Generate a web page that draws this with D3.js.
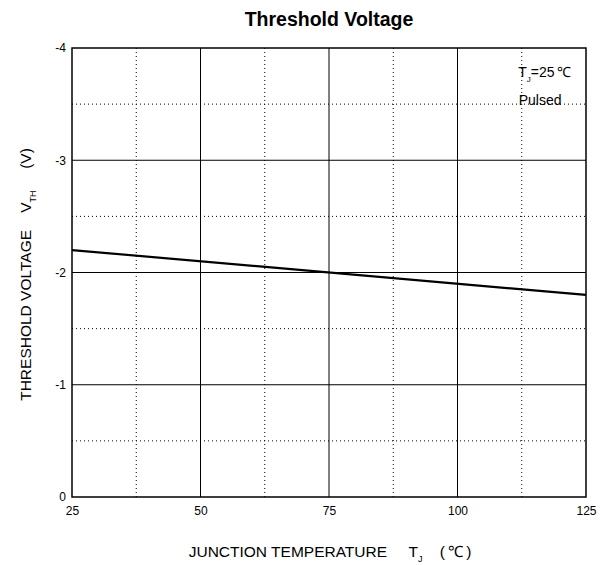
<!DOCTYPE html>
<html>
<head>
<meta charset="utf-8">
<script src="https://cdn.jsdelivr.net/npm/d3@7"></script>
<style>
  body { margin: 0; background: #fff; }
  text { font-family: "Liberation Sans", Arial, sans-serif; fill: #000; }
</style>
</head>
<body>
<div id="chart"></div>
<script>
// Chart data
const tempValues = [25, 125];            // junction temperature (°C)
const vthValues = [-2.2, -1.8];          // threshold voltage (V)
const xMajorTicks = [25, 50, 75, 100, 125];
const xMinorTicks = [37.5, 62.5, 87.5, 112.5];
const yMajorTicks = [0, -1, -2, -3, -4];
const yMinorTicks = [-0.5, -1.5, -2.5, -3.5];

const W = 613, H = 565;
const margin = { top: 48, right: 27, bottom: 68, left: 72 };
const width = W - margin.left - margin.right;
const height = H - margin.top - margin.bottom;

const svg = d3.select("#chart").append("svg")
    .attr("width", W)
    .attr("height", H);

const g = svg.append("g")
    .attr("transform", `translate(${margin.left},${margin.top})`);

const x = d3.scaleLinear().domain([25, 125]).range([0, width]);
const y = d3.scaleLinear().domain([0, -4]).range([height, 0]);

// --- grid ---
g.selectAll(".xminor").data(xMinorTicks).enter().append("line")
    .attr("x1", d => x(d)).attr("x2", d => x(d))
    .attr("y1", 0).attr("y2", height)
    .attr("stroke", "#000").attr("stroke-width", 1)
    .attr("stroke-dasharray", "1,3");

g.selectAll(".yminor").data(yMinorTicks).enter().append("line")
    .attr("x1", 0).attr("x2", width)
    .attr("y1", d => y(d)).attr("y2", d => y(d))
    .attr("stroke", "#000").attr("stroke-width", 1)
    .attr("stroke-dasharray", "1,3");

g.selectAll(".xmajor").data(xMajorTicks.slice(1, -1)).enter().append("line")
    .attr("x1", d => x(d)).attr("x2", d => x(d))
    .attr("y1", 0).attr("y2", height)
    .attr("stroke", "#000").attr("stroke-width", 1);

g.selectAll(".ymajor").data(yMajorTicks.slice(1, -1)).enter().append("line")
    .attr("x1", 0).attr("x2", width)
    .attr("y1", d => y(d)).attr("y2", d => y(d))
    .attr("stroke", "#000").attr("stroke-width", 1);

// frame
g.append("rect")
    .attr("x", 0).attr("y", 0)
    .attr("width", width).attr("height", height)
    .attr("fill", "none").attr("stroke", "#000").attr("stroke-width", 1.5);

// --- axes (labels only) ---
const xAxis = g.append("g")
    .attr("transform", `translate(0,${height})`)
    .call(d3.axisBottom(x).tickValues(xMajorTicks).tickSize(0).tickPadding(9));
const yAxis = g.append("g")
    .call(d3.axisLeft(y).tickValues(yMajorTicks).tickSize(0).tickPadding(6).tickFormat(d => String(d)));
[xAxis, yAxis].forEach(a => {
    a.select(".domain").remove();
    a.selectAll("text")
        .attr("fill", "#000")
        .style("font-size", "12px")
        .style("font-family", "'Liberation Sans', Arial, sans-serif");
});

// --- data line ---
const line = d3.line().x((d, i) => x(tempValues[i])).y(d => y(d));
g.append("path")
    .datum(vthValues)
    .attr("d", line)
    .attr("fill", "none")
    .attr("stroke", "#000")
    .attr("stroke-width", 2.2);

// --- annotation ---
const note = g.append("text")
    .attr("x", x(111.8)).attr("y", y(-3.74))
    .style("font-size", "14px");
note.append("tspan").text("T");
note.append("tspan").attr("dy", 5).style("font-size", "8px").text("J");
note.append("tspan").attr("dy", -5).text("=25\u2009℃");

g.append("text")
    .attr("x", x(111.9)).attr("y", y(-3.49))
    .style("font-size", "14px")
    .text("Pulsed");

// --- titles ---
svg.append("text")
    .attr("x", margin.left + width / 2).attr("y", 26)
    .attr("text-anchor", "middle")
    .style("font-size", "19.5px").style("font-weight", "bold")
    .text("Threshold Voltage");

const xt = svg.append("text")
    .attr("x", margin.left + width / 2 + 1).attr("y", 557)
    .attr("text-anchor", "middle")
    .style("font-size", "15.5px");
xt.append("tspan").text("JUNCTION TEMPERATURE\u00a0\u00a0\u00a0\u00a0\u00a0T");
xt.append("tspan").attr("dy", 5).style("font-size", "9px").text("J");
xt.append("tspan").attr("dy", -5).text("\u00a0\u00a0\u00a0\u00a0(\u2009℃\u2009)");

const yt = svg.append("text")
    .attr("transform", `translate(31,${margin.top + height / 2 + 2}) rotate(-90)`)
    .attr("text-anchor", "middle")
    .style("font-size", "15.5px");
yt.append("tspan").text("THRESHOLD VOLTAGE\u00a0\u00a0\u00a0\u00a0V");
yt.append("tspan").attr("dy", 5).style("font-size", "9px").text("TH");
yt.append("tspan").attr("dy", -5).text("\u00a0\u00a0\u00a0\u00a0\u00a0(V)");
</script>
</body>
</html>
